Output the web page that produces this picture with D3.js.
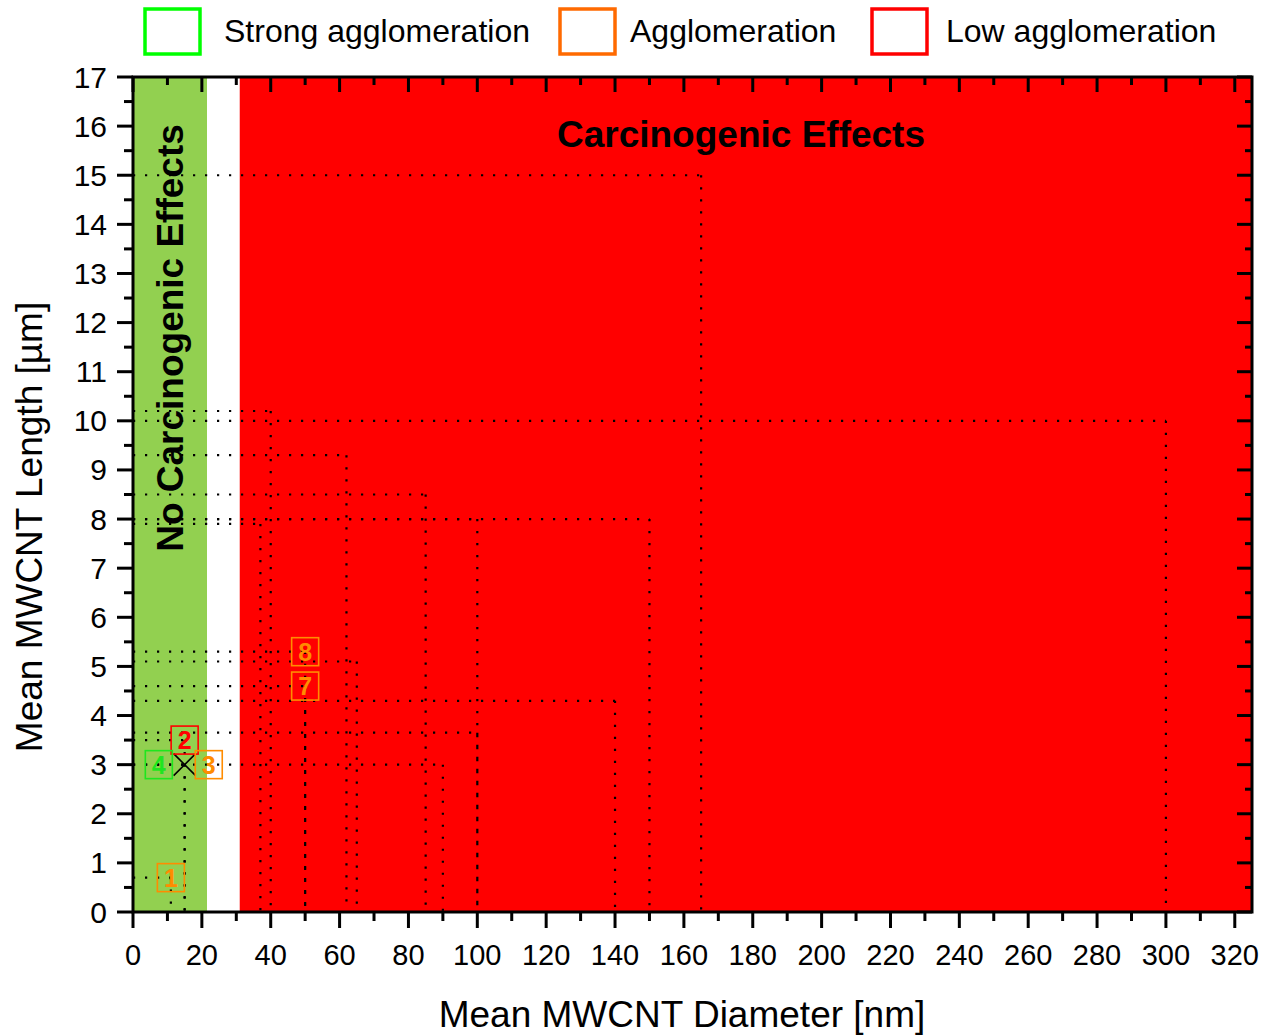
<!DOCTYPE html>
<html><head><meta charset="utf-8">
<script src="https://cdn.jsdelivr.net/npm/d3@7"></script>
<style>
html,body{margin:0;padding:0;background:#fff;}
text{font-family:"Liberation Sans",Arial,sans-serif;}
</style></head>
<body>
<svg id="chart" width="1261" height="1035"></svg>
<script>
// ---- data ----
const zoneNames = ["No Carcinogenic Effects", "gap", "Carcinogenic Effects"];
const zoneStart = [0, 21.5, 31];
const zoneEnd   = [21.5, 31, 325];
const zoneColor = ["#92D050", "#FFFFFF", "#FF0000"];

// sample points (mean diameter nm, mean length µm) with drop lines to both axes
const pointDiameter = [165, 300, 40, 62, 85, 150, 100, 37, 65, 50, 50, 140, 100, 90, 15, 15, 11];
const pointLength   = [15, 10, 10.2, 9.3, 8.5, 8, 8, 7.9, 5.1, 5.3, 4.6, 4.3, 3.65, 3, 3, 3.5, 0.7];

// labelled samples
const labelText     = ["1", "2", "3", "4", "7", "8"];
const labelDiameter = [11, 15, 22, 7.5, 50, 50];
const labelLength   = [0.7, 3.5, 3, 3, 4.6, 5.3];
const labelGroup    = ["Agglomeration", "Low agglomeration", "Agglomeration", "Strong agglomeration", "Agglomeration", "Agglomeration"];

const crossDiameter = [15];
const crossLength   = [3];

const legendNames  = ["Strong agglomeration", "Agglomeration", "Low agglomeration"];
const legendColors = ["#00FF00", "#FF6A00", "#FF0000"];
const labelColors  = {"Strong agglomeration":"#1EE61E", "Agglomeration":"#FF8C00", "Low agglomeration":"#FF0000"};

const xMajor = d3.range(0, 321, 20);
const xMinor = d3.range(0, 326, 10);
const yMajor = d3.range(0, 18, 1);
const yMinor = d3.range(0, 17.01, 0.5);

// ---- layout ----
const L = 133, R = 1252, T = 77, B = 912;
const svg = d3.select("#chart");
const x = d3.scaleLinear().domain([0, 325]).range([L, R]);
const y = d3.scaleLinear().domain([0, 17]).range([B, T]);

// zones
svg.append("g").selectAll("rect").data(zoneNames).join("rect")
  .attr("x", (d,i) => x(zoneStart[i]))
  .attr("width", (d,i) => x(zoneEnd[i]) - x(zoneStart[i]))
  .attr("y", T).attr("height", B - T)
  .attr("fill", (d,i) => zoneColor[i]);

// drop lines
const drops = svg.append("g").attr("fill","none").attr("stroke","#000")
  .attr("stroke-width",2.2).attr("stroke-dasharray","2.2,9.8");
pointDiameter.forEach((d,i) => {
  drops.append("line").attr("x1", x(0)).attr("x2", x(d))
    .attr("y1", y(pointLength[i])).attr("y2", y(pointLength[i]));
  drops.append("line").attr("x1", x(d)).attr("x2", x(d))
    .attr("y1", y(pointLength[i])).attr("y2", y(0));
});

// zone text
svg.append("text").attr("x", 741).attr("y", 147).attr("text-anchor","middle")
  .attr("font-size", 37).attr("font-weight","bold").text(zoneNames[2]);
svg.append("text").attr("transform","translate(183,338) rotate(-90)").attr("text-anchor","middle")
  .attr("font-size", 37).attr("font-weight","bold").text(zoneNames[0]);

// cross marker
crossDiameter.forEach((d,i) => {
  const cx = x(d), cy = y(crossLength[i]), s = 11;
  svg.append("path").attr("d", `M${cx-s},${cy-s}L${cx+s},${cy+s}M${cx-s},${cy+s}L${cx+s},${cy-s}`)
    .attr("stroke","#000").attr("stroke-width",1.6).attr("fill","none");
});

// labels
const lab = svg.append("g").selectAll("g").data(labelText).join("g")
  .attr("transform", (d,i) => `translate(${x(labelDiameter[i])},${y(labelLength[i])})`);
lab.append("rect").attr("x",-13.5).attr("y",-14).attr("width",27).attr("height",28)
  .attr("fill","none").attr("stroke-width",1.6)
  .attr("stroke",(d,i) => labelColors[labelGroup[i]]);
lab.append("text").attr("text-anchor","middle").attr("y",9).attr("font-size",25)
  .attr("font-weight","bold").attr("fill",(d,i) => labelColors[labelGroup[i]]).text(d => d);

// axes
const ax = svg.append("g").attr("stroke","#000");
// bottom (outward)
xMinor.forEach(v => ax.append("line").attr("x1",x(v)).attr("x2",x(v)).attr("y1",B).attr("y2",B+(v%20===0?16:9)).attr("stroke-width",3));
// top (inward)
xMinor.forEach(v => ax.append("line").attr("x1",x(v)).attr("x2",x(v)).attr("y1",T).attr("y2",T+(v%20===0?15:8)).attr("stroke-width",3));
// left (outward)
yMinor.forEach(v => ax.append("line").attr("y1",y(v)).attr("y2",y(v)).attr("x1",L).attr("x2",L-(v%1===0?16:9)).attr("stroke-width",3));
// right (inward)
yMinor.forEach(v => ax.append("line").attr("y1",y(v)).attr("y2",y(v)).attr("x1",R).attr("x2",R-(v%1===0?15:7)).attr("stroke-width",3));
// frame
svg.append("rect").attr("x",L).attr("y",T).attr("width",R-L).attr("height",B-T)
  .attr("fill","none").attr("stroke","#000").attr("stroke-width",3);

// tick labels
svg.append("g").selectAll("text").data(xMajor).join("text")
  .attr("x", d => x(d)).attr("y", 965).attr("text-anchor","middle").attr("font-size",29).text(d => d);
svg.append("g").selectAll("text").data(yMajor).join("text")
  .attr("x", 107).attr("y", d => y(d)+10.5).attr("text-anchor","end").attr("font-size",30).text(d => d);

// axis titles
svg.append("text").attr("x", 682).attr("y", 1027).attr("text-anchor","middle").attr("font-size",37)
  .text("Mean MWCNT Diameter [nm]");
svg.append("text").attr("transform","translate(42,527) rotate(-90)").attr("text-anchor","middle").attr("font-size",37)
  .text("Mean MWCNT Length [µm]");

// legend
const legX = [143, 558, 870];
const legTextX = [81, 72, 76];
const leg = svg.append("g").selectAll("g").data(legendNames).join("g")
  .attr("transform",(d,i) => `translate(${legX[i]},0)`);
leg.append("rect").attr("x",2).attr("y",9).attr("width",55).attr("height",45)
  .attr("fill","#fff").attr("stroke",(d,i) => legendColors[i]).attr("stroke-width",3.5);
leg.append("text").attr("x",(d,i) => legTextX[i]).attr("y",42).attr("font-size",32).text(d => d);
</script>
</body></html>
